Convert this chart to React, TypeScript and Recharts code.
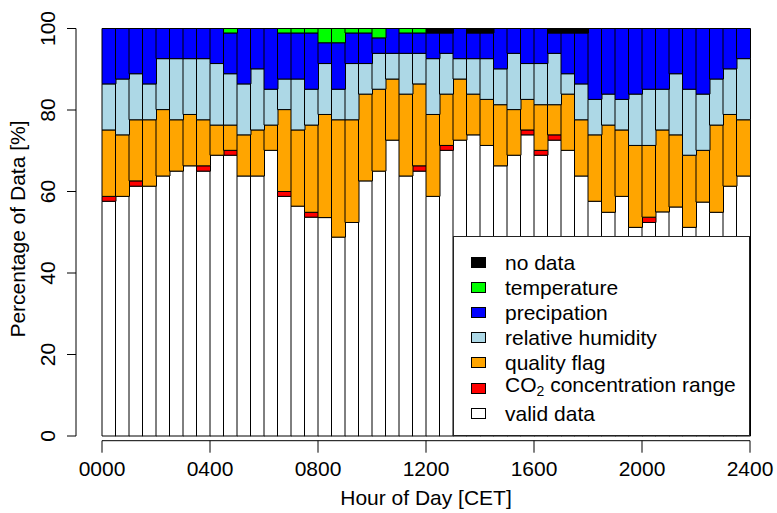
import { BarChart, Bar, XAxis, YAxis, Legend, Label } from "recharts";

// half-hour slots, CET
const HOURS = [
  "0000", "0030", "0100", "0130", "0200", "0230", "0300", "0330",
  "0400", "0430", "0500", "0530", "0600", "0630", "0700", "0730",
  "0800", "0830", "0900", "0930", "1000", "1030", "1100", "1130",
  "1200", "1230", "1300", "1330", "1400", "1430", "1500", "1530",
  "1600", "1630", "1700", "1730", "1800", "1830", "1900", "1930",
  "2000", "2030", "2100", "2130", "2200", "2230", "2300", "2330",
];

// percent of records per slot
const VALID = [
  57.6, 58.8, 61.3, 61.3, 63.8, 65.0, 66.3, 65.0, 68.9, 68.9, 63.8, 63.8,
  70.1, 58.8, 56.4, 53.7, 53.6, 48.8, 52.4, 62.6, 65.0, 72.6, 63.8, 65.0,
  58.8, 70.1, 72.6, 73.9, 71.3, 66.3, 68.9, 73.9, 68.9, 72.6, 70.1, 63.8,
  57.6, 54.9, 58.8, 51.2, 52.4, 55.0, 56.2, 51.2, 57.4, 54.9, 61.3, 63.8,
];
const CO2 = [
  1.2, 0, 1.3, 0, 0, 0, 0, 1.3, 0, 1.2, 0, 0,
  0, 1.2, 0, 1.2, 0, 0, 0, 0, 0, 0, 0, 1.3,
  0, 1.2, 0, 0, 0, 0, 0, 1.2, 1.2, 1.3, 0, 0,
  0, 0, 0, 0, 1.3, 0, 0, 0, 0, 0, 0, 0,
];
const QUALITY = [
  16.3, 15.1, 15.0, 16.3, 16.3, 12.6, 12.6, 11.3, 7.4, 6.2, 10.1, 11.3,
  6.2, 20.1, 18.7, 21.4, 25.3, 28.8, 25.2, 21.3, 20.1, 15.0, 20.1, 20.1,
  20.1, 12.6, 15.0, 10.0, 11.3, 15.0, 11.2, 7.5, 11.2, 7.4, 13.8, 13.8,
  16.3, 21.4, 16.3, 20.1, 17.6, 20.1, 17.7, 17.7, 12.7, 21.4, 17.6, 13.8,
];
const HUMIDITY = [
  11.3, 13.7, 11.3, 8.8, 12.5, 15.0, 13.7, 15.0, 15.1, 12.6, 12.5, 15.0,
  8.8, 7.5, 12.5, 8.8, 12.5, 7.5, 13.8, 7.5, 8.8, 6.3, 10.0, 7.5,
  13.7, 10.0, 5.0, 8.7, 10.0, 8.8, 13.8, 8.8, 10.1, 12.6, 5.0, 8.8,
  8.7, 7.6, 7.5, 12.6, 13.8, 10.0, 15.0, 16.2, 13.8, 11.3, 11.2, 15.0,
];
const PRECIP = [
  13.6, 12.4, 11.1, 13.6, 7.4, 7.4, 7.4, 7.4, 8.6, 10.0, 13.6, 9.9,
  14.9, 11.3, 11.3, 13.8, 5.1, 11.4, 7.5, 7.5, 3.8, 6.1, 5.0, 5.0,
  6.3, 5.0, 7.4, 6.3, 6.3, 9.9, 6.1, 8.6, 8.6, 5.0, 10.0, 12.5,
  17.4, 16.1, 17.4, 16.1, 14.9, 14.9, 11.1, 14.9, 16.1, 12.4, 9.9, 7.4,
];
const TEMPERATURE = [
  0, 0, 0, 0, 0, 0, 0, 0, 0, 1.1, 0, 0,
  0, 1.1, 1.1, 1.1, 3.5, 3.5, 1.1, 1.1, 2.3, 0, 1.1, 1.1,
  0, 0, 0, 0, 0, 0, 0, 0, 0, 0, 0, 0,
  0, 0, 0, 0, 0, 0, 0, 0, 0, 0, 0, 0,
];
const NO_DATA = [
  0, 0, 0, 0, 0, 0, 0, 0, 0, 0, 0, 0,
  0, 0, 0, 0, 0, 0, 0, 0, 0, 0, 0, 0,
  1.1, 1.1, 0, 1.1, 1.1, 0, 0, 0, 0, 1.1, 1.1, 1.1,
  0, 0, 0, 0, 0, 0, 0, 0, 0, 0, 0, 0,
];

// ticks sit on slot boundaries; the last one closes the day
const X_TICKS = ["0000", "0400", "0800", "1200", "1600", "2000", "2330"];
const X_TICK_LABELS = ["0000", "0400", "0800", "1200", "1600", "2000", "2400"];
const Y_TICKS = [0, 20, 40, 60, 80, 100];

// stacking order, bottom to top
const SERIES = [
  { key: "valid", name: "valid data", color: "#FFFFFF" },
  { key: "co2", name: "CO2 concentration range", color: "#FF0000" },
  { key: "quality", name: "quality flag", color: "#FFA500" },
  { key: "humidity", name: "relative humidity", color: "#ADD8E6" },
  { key: "precip", name: "precipation", color: "#0000FF" },
  { key: "temperature", name: "temperature", color: "#00FF00" },
  { key: "nodata", name: "no data", color: "#000000" },
];

const data = HOURS.map((hour, i) => ({
  hour,
  valid: VALID[i],
  co2: CO2[i],
  quality: QUALITY[i],
  humidity: HUMIDITY[i],
  precip: PRECIP[i],
  temperature: TEMPERATURE[i],
  nodata: NO_DATA[i],
}));

const FONT = "'Liberation Sans', Arial, Helvetica, sans-serif";
const AXIS_GAP = 4.7;

function XTick(props: any) {
  const { x, y, index, payload, width } = props;
  const half = payload?.offset ?? width / HOURS.length / 2;
  const last = index === X_TICKS.length - 1;
  const tx = last ? x + half : x - half;
  return (
    <g>
      <line x1={tx} x2={tx} y1={y + AXIS_GAP} y2={y + AXIS_GAP + 12} stroke="#000" />
      <text x={tx} y={y} dy={40} textAnchor="middle" fontSize={21} fill="#000">
        {X_TICK_LABELS[index]}
      </text>
    </g>
  );
}

function YTick(props: any) {
  const { x, y, payload } = props;
  const tx = x - 38;
  return (
    <text
      x={tx}
      y={y}
      textAnchor="middle"
      fontSize={21}
      fill="#000"
      transform={`rotate(-90 ${tx} ${y})`}
    >
      {payload.value}
    </text>
  );
}

function YTitle(props: any) {
  const { viewBox } = props;
  const x = viewBox.x + 25;
  const y = 229;
  return (
    <text
      x={x}
      y={y}
      textAnchor="middle"
      fontSize={21}
      fill="#000"
      transform={`rotate(-90 ${x} ${y})`}
    >
      Percentage of Data [%]
    </text>
  );
}

function legendLabel(name: string) {
  if (name.startsWith("CO2")) {
    return (
      <>
        CO<sub style={{ fontSize: 14, verticalAlign: "-4px" }}>2</sub>
        {name.slice(3)}
      </>
    );
  }
  return name;
}

function LegendBox() {
  return (
    <div
      style={{
        width: 297,
        height: 200,
        boxSizing: "border-box",
        border: "1px solid #222",
        background: "#fff",
        paddingTop: 13,
        paddingLeft: 17,
        fontFamily: FONT,
        color: "#000",
      }}
    >
      {[...SERIES].reverse().map((s) => (
        <div key={s.key} style={{ display: "flex", alignItems: "center", height: 25.1 }}>
          <span
            style={{
              display: "inline-block",
              width: 15,
              height: 11,
              boxSizing: "border-box",
              background: s.color,
              border: "1px solid #000",
            }}
          />
          <span style={{ marginLeft: 19, fontSize: 21, lineHeight: "25px", whiteSpace: "nowrap" }}>
            {legendLabel(s.name)}
          </span>
        </div>
      ))}
    </div>
  );
}

export default function App() {
  return (
    <div style={{ position: "absolute", left: 0, top: 0, fontFamily: FONT, background: "#fff" }}>
      <BarChart
        width={777}
        height={513}
        data={data}
        barCategoryGap={0}
        barGap={0}
        margin={{ top: 28.5, right: 27, bottom: 0, left: 0 }}
      >
        <XAxis
          dataKey="hour"
          ticks={X_TICKS}
          interval={0}
          height={77}
          tickSize={0}
          tickMargin={0}
          tickLine={false}
          tick={<XTick />}
          axisLine={{ stroke: "#000", strokeWidth: 1, transform: `translate(0 ${AXIS_GAP})` }}
        >
          <Label value="Hour of Day [CET]" position="insideBottom" offset={8} fontSize={21} fill="#000" />
        </XAxis>
        <YAxis
          type="number"
          domain={[0, 100]}
          ticks={Y_TICKS}
          interval={0}
          width={102}
          tickSize={9}
          tickMargin={0}
          tick={<YTick />}
          axisLine={{ stroke: "#000", strokeWidth: 1, transform: "translate(-26 0)" }}
          tickLine={{ stroke: "#000", strokeWidth: 1, transform: "translate(-26 0)" }}
        >
          <Label content={<YTitle />} />
        </YAxis>
        <Legend
          layout="horizontal"
          verticalAlign="middle"
          align="center"
          content={<LegendBox />}
          wrapperStyle={{ left: 453, top: 236, width: 297, height: 200 }}
        />
        {SERIES.map((s) => (
          <Bar
            key={s.key}
            dataKey={s.key}
            name={s.name}
            stackId="a"
            fill={s.color}
            stroke="#000"
            strokeWidth={1}
            isAnimationActive={false}
          />
        ))}
      </BarChart>
    </div>
  );
}
